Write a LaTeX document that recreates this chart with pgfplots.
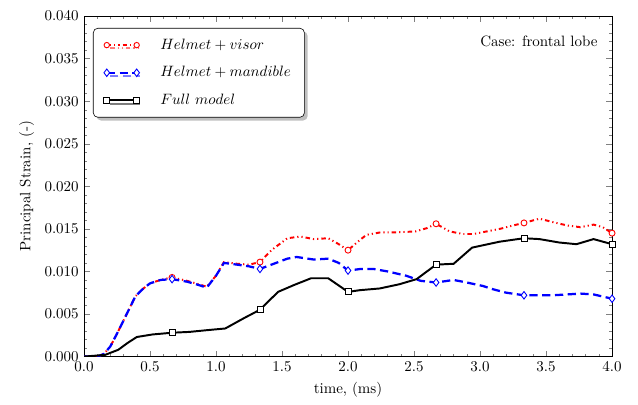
\documentclass[border=0pt]{standalone}
\usepackage{pgfplots}
\pgfplotsset{compat=1.18}
\usetikzlibrary{shadows,calc}

\pgfplotstableread{
x y
0.00 0.0000
0.10 0.0000
0.15 0.0003
0.20 0.0012
0.26 0.0030
0.33 0.0052
0.39 0.0071
0.45 0.0080
0.50 0.0086
0.58 0.0090
0.667 0.0093
0.78 0.0089
0.87 0.0085
0.93 0.0082
1.00 0.0095
1.06 0.0111
1.16 0.0109
1.25 0.0108
1.333 0.0111
1.42 0.0125
1.54 0.0139
1.64 0.0141
1.74 0.0138
1.85 0.0139
1.93 0.0132
2.00 0.0125
2.09 0.0137
2.14 0.0143
2.25 0.0146
2.38 0.0146
2.51 0.0147
2.60 0.0151
2.667 0.0156
2.77 0.0147
2.87 0.0144
2.95 0.0144
3.05 0.0147
3.15 0.0150
3.25 0.0154
3.333 0.0157
3.45 0.0162
3.55 0.0158
3.66 0.0154
3.76 0.0152
3.86 0.0155
3.93 0.0152
4.00 0.0145
}\visor

\pgfplotstableread{
x y
0.00 0.0000
0.10 0.0000
0.15 0.0003
0.20 0.0012
0.26 0.0030
0.33 0.0052
0.39 0.0071
0.45 0.0080
0.50 0.0086
0.58 0.0090
0.667 0.0091
0.78 0.0088
0.87 0.0084
0.93 0.0081
1.00 0.0095
1.06 0.0110
1.16 0.0108
1.25 0.0106
1.333 0.0103
1.42 0.0108
1.54 0.0115
1.61 0.0117
1.74 0.0114
1.85 0.0115
1.93 0.0110
2.00 0.0101
2.10 0.0103
2.19 0.0103
2.30 0.0100
2.44 0.0095
2.55 0.0089
2.667 0.0087
2.80 0.0090
2.90 0.0087
3.02 0.0083
3.10 0.0079
3.20 0.0075
3.333 0.0072
3.45 0.0072
3.55 0.0072
3.66 0.0073
3.76 0.0074
3.86 0.0073
4.00 0.0068
}\mandible

\pgfplotstableread{
x y
0.00 0.0000
0.16 0.0002
0.26 0.0008
0.33 0.0016
0.40 0.0023
0.52 0.0026
0.667 0.0028
0.80 0.0029
0.93 0.0031
1.07 0.0033
1.21 0.0045
1.333 0.0055
1.47 0.0076
1.59 0.0084
1.72 0.0092
1.85 0.0092
2.00 0.0076
2.09 0.0078
2.24 0.0080
2.39 0.0085
2.52 0.0091
2.667 0.0108
2.80 0.0109
2.94 0.0128
3.15 0.0135
3.333 0.0139
3.45 0.0138
3.60 0.0134
3.73 0.0132
3.86 0.0138
4.00 0.0132
}\full

% marker positions
\pgfplotstableread{
x y
0.667 0.0093
1.333 0.0111
2.000 0.0125
2.667 0.0156
3.333 0.0157
4.000 0.0145
}\visormk
\pgfplotstableread{
x y
0.667 0.0091
1.333 0.0103
2.000 0.0101
2.667 0.0087
3.333 0.0072
4.000 0.0068
}\mandiblemk
\pgfplotstableread{
x y
0.667 0.0028
1.333 0.0055
2.000 0.0076
2.667 0.0108
3.333 0.0139
4.000 0.0132
}\fullmk

\tikzset{
  visorline/.style={red, line width=1.3pt, dash pattern=on 3pt off 2pt on 0.8pt off 2pt on 0.8pt off 2pt},
  mandline/.style={blue, line width=1.5pt, dash pattern=on 5.5pt off 3pt},
  fullline/.style={black, line width=1.3pt},
}

\begin{document}
\begin{tikzpicture}
\begin{axis}[
  scale only axis,
  width=352pt, height=227pt,
  xmin=0, xmax=4, ymin=0, ymax=0.04,
  xtick={0,0.5,1,1.5,2,2.5,3,3.5,4},
  ytick={0,0.005,0.01,0.015,0.02,0.025,0.03,0.035,0.04},
  minor x tick num=4, minor y tick num=4,
  tick align=inside,
  major tick length=4pt, minor tick length=2pt,
  xticklabel style={/pgf/number format/.cd, fixed, fixed zerofill, precision=1},
  yticklabel style={/pgf/number format/.cd, fixed, fixed zerofill, precision=3},
  scaled y ticks=false,
  xlabel={time, (ms)},
  ylabel={Principal Strain, (-)},
  legend style={at={(0.017,0.965)}, anchor=north west, draw=black, fill=white,
    rounded corners=3pt, drop shadow, row sep=6pt, inner xsep=7pt, inner ysep=5pt},
  legend cell align=left,
  legend image code/.code={\path (0cm,0cm) (0.7cm+13pt,0cm);
    \draw plot coordinates {(0cm,0cm) (0.7cm,0cm)};},
]
\coordinate (sw) at (rel axis cs:0,0);
\coordinate (ne) at (rel axis cs:1,1);

\addlegendimage{visorline, mark=*, mark size=1.8pt, mark options={solid, fill=white, draw=red, line width=0.6pt}}
\addlegendentry{$Helmet+visor$}
\addlegendimage{mandline, mark=diamond*, mark size=2.5pt, mark options={solid, fill=white, draw=blue, line width=0.6pt}}
\addlegendentry{$Helmet+mandible$}
\addlegendimage{fullline, mark=square*, mark size=2pt, mark options={solid, fill=white, draw=black, line width=0.6pt}}
\addlegendentry{$Full\ model$}

\addplot[visorline, forget plot] table {\visor};
\addplot[mandline, forget plot] table {\mandible};
\addplot[fullline, forget plot] table {\full};

\addplot[only marks, forget plot, mark=*, mark size=2pt, mark options={fill=white, draw=red, line width=0.6pt}] table {\visormk};
\addplot[only marks, forget plot, mark=diamond*, mark size=2.5pt, mark options={fill=white, draw=blue, line width=0.6pt}] table {\mandiblemk};
\addplot[only marks, forget plot, mark=square*, mark size=2pt, mark options={fill=white, draw=black, line width=0.6pt}] table {\fullmk};

\node[anchor=east] at (axis cs:3.93,0.037) {Case: frontal lobe};
\end{axis}
\pgfresetboundingbox
\path[use as bounding box] ($(sw)+(-56pt,-32pt)$) rectangle ($(ne)+(17.3pt,10.7pt)$);
\end{tikzpicture}
\end{document}
